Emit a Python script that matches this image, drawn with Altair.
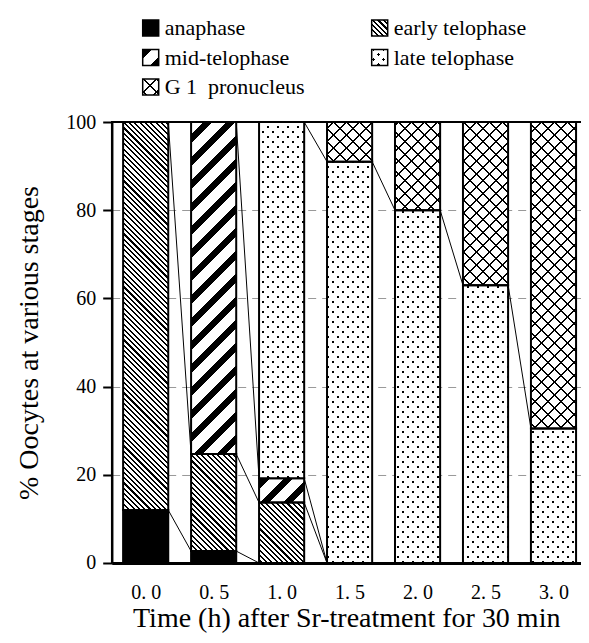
import math
import json
import altair as alt

# ---------------- data ----------------
times = [0.0, 0.5, 1.0, 1.5, 2.0, 2.5, 3.0]
tick_labels = ["0. 0", "0. 5", "1. 0", "1. 5", "2. 0", "2. 5", "3. 0"]
stages = ["anaphase", "early telophase", "mid-telophase", "late telophase", "G 1\u00a0 pronucleus"]
anaphase = [12.0, 2.7, 0.0, 0.0, 0.0, 0.0, 0.0]
early_telophase = [88.0, 22.0, 13.7, 0.0, 0.0, 0.0, 0.0]
mid_telophase = [0.0, 75.3, 5.5, 0.0, 0.0, 0.0, 0.0]
late_telophase = [0.0, 0.0, 80.8, 91.0, 80.0, 63.0, 30.5]
g1_pronucleus = [0.0, 0.0, 0.0, 9.0, 20.0, 37.0, 69.5]
series = [anaphase, early_telophase, mid_telophase, late_telophase, g1_pronucleus]

y_ticks = [0, 20, 40, 60, 80, 100]
x_title = "Time (h) after Sr-treatment for 30 min"
y_title = "% Oocytes at various stages"

# ---------------- layout / style ----------------
PLOT_W, PLOT_H = 469, 441
X_DOM = [-0.25, 3.2]
HW = 0.166  # half bar width in x units
PX_X = PLOT_W / (X_DOM[1] - X_DOM[0])
PX_Y = PLOT_H / 100.0
FONT = "Liberation Serif, Times New Roman, serif"
CLEAR = "rgba(0,0,0,0)"


def stripes(w, h, a, b, X0, Y0, period, lw, fg, bg):
    """Linear gradient with hard stops emulating a hatch pattern (bbox units)."""
    L = w * abs(a) + h * abs(b)
    dmin = (a * w if a < 0 else 0) + (b * h if b < 0 else 0)
    start = dmin + a * X0 + b * Y0
    x1 = 1.0 if a < 0 else 0.0
    y1 = 1.0 if b < 0 else 0.0
    k = L / (w * w * a * a + h * h * b * b)
    x2 = x1 + k * w * a
    y2 = y1 + k * h * b
    stops = [{"offset": 0, "color": bg}]
    m0 = math.floor(start / period) - 1
    m1 = math.ceil((start + L) / period) + 1
    for m in range(m0, m1 + 1):
        s = (m * period - start) / L
        e = (m * period + lw - start) / L
        if e <= 0 or s >= 1:
            continue
        s = round(max(s, 0.0), 5)
        e = round(min(e, 1.0), 5)
        stops += [{"offset": s, "color": bg}, {"offset": s, "color": fg},
                  {"offset": e, "color": fg}, {"offset": e, "color": bg}]
    stops.append({"offset": 1, "color": bg})
    return {"gradient": "linear", "x1": x1, "y1": y1,
            "x2": round(x2, 6), "y2": round(y2, 6), "stops": stops}


def pattern(idx, w, h, X0, Y0):
    if idx == 0:  # anaphase: solid black
        return ["black", CLEAR, CLEAR]
    if idx == 1:  # early telophase: fine "\\" hatch
        return [stripes(w, h, 1, -1, X0, Y0, 5.3, 2.1, "black", "white"), CLEAR, CLEAR]
    if idx == 2:  # mid-telophase: bold "//" hatch
        return [stripes(w, h, 1, 1, X0, Y0, 23, 9, "black", "white"), CLEAR, CLEAR]
    if idx == 3:  # late telophase: staggered dots
        return ["black",
                stripes(w, h, 1, 1, X0, Y0, 10, 2.9, CLEAR, "white"),
                stripes(w, h, 1, -1, X0, Y0, 10, 2.9, CLEAR, "white")]
    # G1 pronucleus: cross hatch
    return [stripes(w, h, 1, 1, X0, Y0, 13, 2.2, "black", "white"),
            stripes(w, h, 1, -1, X0, Y0, 13, 2.2, "black", CLEAR), CLEAR]


# bar segments
bar_rows = []
cum_tops = []  # cum_tops[s][i]
for s in range(len(series)):
    cum_tops.append([0.0] * len(times))
for i, t in enumerate(times):
    base = 0.0
    for s, vals in enumerate(series):
        v = vals[i]
        top = base + v
        cum_tops[s][i] = top
        if v > 0:
            w = 2 * HW * PX_X
            h = v * PX_Y
            X0 = (t - HW - X_DOM[0]) * PX_X
            Y0 = (100 - top) * PX_Y
            g = pattern(s, w, h, X0, Y0)
            bar_rows.append({"x0": t - HW, "x1": t + HW, "y0": base, "y1": top,
                             "stage": stages[s], "g0": g[0], "g1": g[1], "g2": g[2]})
        base = top

# series lines between neighbouring bars
line_rows = []
for i in range(len(times) - 1):
    for s in range(len(series)):
        line_rows.append({"x0": times[i] + HW, "x1": times[i + 1] - HW,
                          "y0": cum_tops[s][i], "y1": cum_tops[s][i + 1]})

# legend entries
legend_rows = []
legend_pos = [(0, 0), (1, 0), (0, 1), (1, 1), (0, 2)]
for s, (c, r) in enumerate(legend_pos):
    g = pattern(s, 16, 16, 0, 0)
    legend_rows.append({"col": c, "row": r, "label": stages[s],
                        "g0": g[0], "g1": g[1], "g2": g[2]})

bar_data = alt.Data(values=bar_rows)
line_data = alt.Data(values=line_rows)
legend_data = alt.Data(values=legend_rows)

label_expr = f"{json.dumps(tick_labels)}[indexof({json.dumps(times)}, datum.value)]"

x_scale = alt.Scale(domain=X_DOM, nice=False, zero=False)
y_scale = alt.Scale(domain=[0, 100], nice=False, zero=True)

x_axis = alt.Axis(values=times, labelExpr=label_expr, ticks=False, tickSize=0,
                  domainColor="black", domainWidth=3, grid=False,
                  labelFont=FONT, labelFontSize=20, labelColor="black", labelPadding=20,
                  title=x_title, titleFont=FONT, titleFontSize=28, titleFontWeight="normal",
                  titleColor="black", titlePadding=2)
y_axis = alt.Axis(values=y_ticks, tickSize=9, tickWidth=2, tickColor="black",
                  domainColor="black", domainWidth=2.5,
                  grid=True, gridDash=[8, 6], gridColor="#999999", gridWidth=1,
                  labelFont=FONT, labelFontSize=20, labelColor="black", labelPadding=7,
                  title=y_title, titleFont=FONT, titleFontSize=28, titleFontWeight="normal",
                  titleColor="black", titlePadding=22)


def enc(chart):
    return chart.encode(
        x=alt.X("x0:Q", scale=x_scale, axis=x_axis),
        x2="x1:Q",
        y=alt.Y("y0:Q", scale=y_scale, axis=y_axis),
        y2="y1:Q",
    )


rects = []
for k, col in enumerate(["g0", "g1", "g2"]):
    if k < 2:
        m = alt.Chart(bar_data).mark_rect(strokeWidth=0, opacity=1)
    else:
        m = alt.Chart(bar_data).mark_rect(stroke="black", strokeWidth=2, opacity=1)
    rects.append(enc(m).encode(fill=alt.Fill(f"{col}:N", scale=None)))

lines = enc(alt.Chart(line_data).mark_rule(color="black", strokeWidth=1))
top_rule = alt.Chart(line_data).mark_rule(color="black", strokeWidth=1.5).encode(
    y=alt.Y(datum=100, scale=y_scale, axis=y_axis))

main = alt.layer(*rects, lines, top_rule)

lx = alt.Scale(domain=[0, 1], range=[39, 268])
ly = alt.Scale(domain=[0, 2], range=[-94, -35])
leg_sq = []
for k, col in enumerate(["g0", "g1", "g2"]):
    if k < 2:
        m = alt.Chart(legend_data).mark_square(size=256, opacity=1, strokeWidth=0)
    else:
        m = alt.Chart(legend_data).mark_square(size=256, opacity=1, stroke="black", strokeWidth=1.5)
    leg_sq.append(m.encode(
        x=alt.X("col:Q", scale=lx, axis=None),
        y=alt.Y("row:Q", scale=ly, axis=None),
        fill=alt.Fill(f"{col}:N", scale=None)))
leg_txt = alt.Chart(legend_data).mark_text(
    align="left", baseline="middle", dx=14, font=FONT, fontSize=22, color="black"
).encode(x=alt.X("col:Q", scale=lx, axis=None),
         y=alt.Y("row:Q", scale=ly, axis=None),
         text="label:N")
legend = alt.layer(*leg_sq, leg_txt)

chart = alt.layer(main, legend).resolve_scale(x="independent", y="independent").properties(
    width=PLOT_W, height=PLOT_H,
    autosize=alt.AutoSizeParams(type="none"),
    padding={"left": 103.7, "top": 114, "right": 0, "bottom": 72},
).configure_view(stroke=None)

chart.save("out.html", embed_options={"renderer": "svg", "actions": False})
